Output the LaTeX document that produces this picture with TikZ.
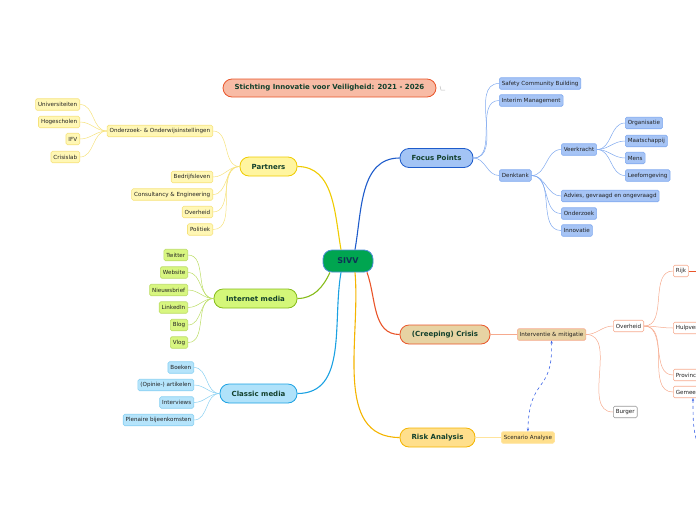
\documentclass[tikz,border=0pt]{standalone}
\usepackage{fontspec}
\setmainfont{DejaVu Sans}
\usetikzlibrary{arrows.meta}

\definecolor{maintext}{HTML}{12402C}
\definecolor{leaftext}{HTML}{222222}
\definecolor{ylwB}{HTML}{EFCB00}\definecolor{ylwF}{HTML}{FFF5A0}
\definecolor{ylwLF}{HTML}{FFF7B5}\definecolor{ylwL}{HTML}{F6E27C}
\definecolor{grnB}{HTML}{86BC1A}\definecolor{grnF}{HTML}{D4F779}
\definecolor{grnLF}{HTML}{D8F680}\definecolor{grnL}{HTML}{BCDD66}
\definecolor{skyB}{HTML}{1BA1E2}\definecolor{skyF}{HTML}{B0E2FA}
\definecolor{skyLF}{HTML}{B5E4FB}\definecolor{skyL}{HTML}{88D0F2}
\definecolor{fcsB}{HTML}{1E5CCB}\definecolor{fcsF}{HTML}{A3C4F5}
\definecolor{fcsLF}{HTML}{A6C4F5}\definecolor{fcsL}{HTML}{80A9EF}
\definecolor{crsB}{HTML}{E9552A}\definecolor{crsF}{HTML}{E7D3A3}
\definecolor{crsL}{HTML}{F6AA8E}
\definecolor{rskB}{HTML}{F4B400}\definecolor{rskF}{HTML}{FFDF8C}
\definecolor{rskL}{HTML}{FFE49C}
\definecolor{sivvF}{HTML}{00A550}\definecolor{sivvB}{HTML}{4E8FD6}
\definecolor{titleF}{HTML}{F8BBA5}
\definecolor{linkB}{HTML}{3B63E6}

\tikzset{
  mainnode/.style={draw, line width=0.8pt, rounded corners=9pt, minimum height=19pt,
    inner sep=0pt, font=\fontsize{7}{8}\selectfont\bfseries, text=maintext},
  leaf/.style={draw, line width=0.6pt, rounded corners=1.5pt, minimum height=11.5pt,
    inner xsep=2.5pt, inner ysep=0pt, font=\fontsize{5.6}{6.5}\selectfont, text=leaftext},
  trunk/.style={line width=1.1pt},
  twig/.style={line width=0.5pt},
}

\begin{document}
\begin{tikzpicture}[x=1pt,y=-1pt]
  \useasboundingbox (0,0) rectangle (696,520);

  % centre and title
  \node[mainnode, fill=sivvF, draw=sivvB, minimum width=50pt, minimum height=22pt,
        font=\fontsize{8}{9}\selectfont\bfseries, text=maintext!80!blue] (sivv) at (348,261) {SIVV};
  \node[mainnode, fill=titleF, draw=crsB, minimum width=213pt, minimum height=18pt,
        font=\fontsize{7}{8}\selectfont\bfseries] (title) at (329.5,88) {Stichting Innovatie voor Veiligheid: 2021 - 2026};
  \draw[gray!50, line width=0.5pt] (440,86) -- (441,90) -- (445,90);

  % main branches
  \node[mainnode, fill=ylwF, draw=ylwB, minimum width=57pt] (partners) at (268.5,166.5) {Partners};
  \node[mainnode, fill=grnF, draw=grnB, minimum width=83pt] (internet) at (255.5,298.5) {Internet media};
  \node[mainnode, fill=skyF, draw=skyB, minimum width=77pt] (classic) at (258.5,393.5) {Classic media};
  \node[mainnode, fill=fcsF, draw=fcsB, minimum width=73pt] (focus) at (436.5,158) {Focus Points};
  \node[mainnode, fill=crsF, draw=crsB, minimum width=90pt] (crisis) at (445,334.5) {(Creeping) Crisis};
  \node[mainnode, fill=rskF, draw=rskB, minimum width=75pt] (risk) at (437.5,437.5) {Risk Analysis};

  \draw[trunk, ylwB] ([xshift=-7pt]sivv.north) to[out=100,in=0] (partners.east);
  \draw[trunk, fcsB] ([xshift=7pt]sivv.north) to[out=80,in=180] (focus.west);
  \draw[trunk, grnB] ([xshift=-18pt]sivv.south) to[out=-115,in=0] (internet.east);
  \draw[trunk, skyB] ([xshift=-7pt]sivv.south) to[out=-100,in=0] (classic.east);
  \draw[trunk, crsB] ([xshift=19pt]sivv.south) to[out=-70,in=180] (crisis.west);
  \draw[trunk, rskB] ([xshift=7pt]sivv.south) to[out=-85,in=180] (risk.west);

  % partners
  \node[leaf, fill=ylwLF, draw=ylwL, anchor=east] (onderwijs) at (213,131) {Onderzoek- \& Onderwijsinstellingen};
  \node[leaf, fill=ylwLF, draw=ylwL, anchor=east] (univ) at (80,104.5) {Universiteiten};
  \node[leaf, fill=ylwLF, draw=ylwL, anchor=east] (hogesch) at (80,122) {Hogescholen};
  \node[leaf, fill=ylwLF, draw=ylwL, anchor=east] (ifv) at (80,139) {IFV};
  \node[leaf, fill=ylwLF, draw=ylwL, anchor=east] (crisislab) at (80,157) {Crisislab};
  \node[leaf, fill=ylwLF, draw=ylwL, anchor=east] (bedrijf) at (213,177) {Bedrijfsleven};
  \node[leaf, fill=ylwLF, draw=ylwL, anchor=east] (consult) at (213,194.5) {Consultancy \& Engineering};
  \node[leaf, fill=ylwLF, draw=ylwL, anchor=east] (overheidP) at (213,212) {Overheid};
  \node[leaf, fill=ylwLF, draw=ylwL, anchor=east] (politiek) at (213,229.5) {Politiek};
  \foreach \n in {onderwijs,bedrijf,consult,overheidP,politiek}
    \draw[twig, ylwL] (partners.west) to[out=180,in=0] (\n.east);
  \foreach \n in {univ,hogesch,ifv,crisislab}
    \draw[twig, ylwL] (onderwijs.west) to[out=180,in=0] (\n.east);

  % internet media
  \node[leaf, fill=grnLF, draw=grnL, anchor=east] (twitter) at (188,255) {Twitter};
  \node[leaf, fill=grnLF, draw=grnL, anchor=east] (website) at (188,272.5) {Website};
  \node[leaf, fill=grnLF, draw=grnL, anchor=east] (nieuws) at (188,290) {Nieuwsbrief};
  \node[leaf, fill=grnLF, draw=grnL, anchor=east] (linkedin) at (188,307.5) {LinkedIn};
  \node[leaf, fill=grnLF, draw=grnL, anchor=east] (blog) at (188,325) {Blog};
  \node[leaf, fill=grnLF, draw=grnL, anchor=east] (vlog) at (188,342.5) {Vlog};
  \foreach \n in {twitter,website,nieuws,linkedin,blog,vlog}
    \draw[twig, grnL] (internet.west) to[out=180,in=0] (\n.east);

  % classic media
  \node[leaf, fill=skyLF, draw=skyL, anchor=east] (boeken) at (194,367.5) {Boeken};
  \node[leaf, fill=skyLF, draw=skyL, anchor=east] (artikelen) at (194,385) {(Opinie-) artikelen};
  \node[leaf, fill=skyLF, draw=skyL, anchor=east] (interviews) at (194,402.5) {Interviews};
  \node[leaf, fill=skyLF, draw=skyL, anchor=east] (plenair) at (194,420) {Plenaire bijeenkomsten};
  \foreach \n in {boeken,artikelen,interviews,plenair}
    \draw[twig, skyL] (classic.west) to[out=180,in=0] (\n.east);

  % focus points
  \node[leaf, fill=fcsLF, draw=fcsL, anchor=west] (safety) at (499,83.5) {Safety Community Building};
  \node[leaf, fill=fcsLF, draw=fcsL, anchor=west] (interim) at (499,100.5) {Interim Management};
  \node[leaf, fill=fcsLF, draw=fcsL, anchor=west] (denktank) at (499,175.5) {Denktank};
  \node[leaf, fill=fcsLF, draw=fcsL, anchor=west] (veerkracht) at (561,149.5) {Veerkracht};
  \node[leaf, fill=fcsLF, draw=fcsL, anchor=west] (organisatie) at (625,123) {Organisatie};
  \node[leaf, fill=fcsLF, draw=fcsL, anchor=west] (maatsch) at (625,141) {Maatschappij};
  \node[leaf, fill=fcsLF, draw=fcsL, anchor=west] (mens) at (625,158) {Mens};
  \node[leaf, fill=fcsLF, draw=fcsL, anchor=west] (leefomg) at (625,175.5) {Leefomgeving};
  \node[leaf, fill=fcsLF, draw=fcsL, anchor=west] (advies) at (561,196) {Advies, gevraagd en ongevraagd};
  \node[leaf, fill=fcsLF, draw=fcsL, anchor=west] (onderzoek) at (561,213.5) {Onderzoek};
  \node[leaf, fill=fcsLF, draw=fcsL, anchor=west] (innovatie) at (561,230.5) {Innovatie};
  \foreach \n in {safety,interim,denktank}
    \draw[twig, fcsL] (focus.east) to[out=0,in=180] (\n.west);
  \foreach \n in {veerkracht,advies,onderzoek,innovatie}
    \draw[twig, fcsL] (denktank.east) to[out=0,in=180] (\n.west);
  \foreach \n in {organisatie,maatsch,mens,leefomg}
    \draw[twig, fcsL] (veerkracht.east) to[out=0,in=180] (\n.west);

  % (creeping) crisis
  \node[leaf, fill=crsF, draw=crsL, anchor=west] (interventie) at (517,334.5) {Interventie \& mitigatie};
  \node[leaf, fill=white, draw=crsL, anchor=west] (overheid) at (613,326) {Overheid};
  \node[leaf, fill=white, draw=gray!80, anchor=west] (burger) at (613,412) {Burger};
  \node[leaf, fill=white, draw=crsL, anchor=west] (rijk) at (673,271) {Rijk};
  \node[leaf, fill=white, draw=crsL, anchor=west] (hulp) at (673,328) {Hulpverleningsdiensten};
  \node[leaf, fill=white, draw=crsL, anchor=west] (provincie) at (673,375) {Provincie};
  \node[leaf, fill=white, draw=crsL, anchor=west] (gemeente) at (673,392) {Gemeente};
  \coordinate (rijkfar) at (705,271);
  \coordinate (gemfar) at (705,470);
  \draw[twig, crsL] (crisis.east) -- (interventie.west);
  \foreach \n in {overheid,burger}
    \draw[twig, crsL] (interventie.east) to[out=0,in=180] (\n.west);
  \foreach \n in {rijk,hulp,provincie,gemeente}
    \draw[twig, crsL] (overheid.east) to[out=0,in=180] (\n.west);
  \draw[twig, crsB] (rijk.east) -- (rijkfar);

  % risk analysis
  \node[leaf, fill=rskF, draw=rskL, anchor=west] (scenario) at (501,437.5) {Scenario Analyse};
  \draw[twig, rskL] (risk.east) -- (scenario.west);

  % links
  \draw[linkB, line width=0.6pt, dashed, {Stealth[length=3pt]}-{Stealth[length=3pt]}]
    (interventie.south) .. controls (553,395) and (529,375) .. (scenario.north);
  \draw[linkB, line width=0.6pt, dashed, {Stealth[length=3pt]}-]
    ([xshift=20pt]gemeente.south west) .. controls (693,430) .. (gemfar);
\end{tikzpicture}
\end{document}
